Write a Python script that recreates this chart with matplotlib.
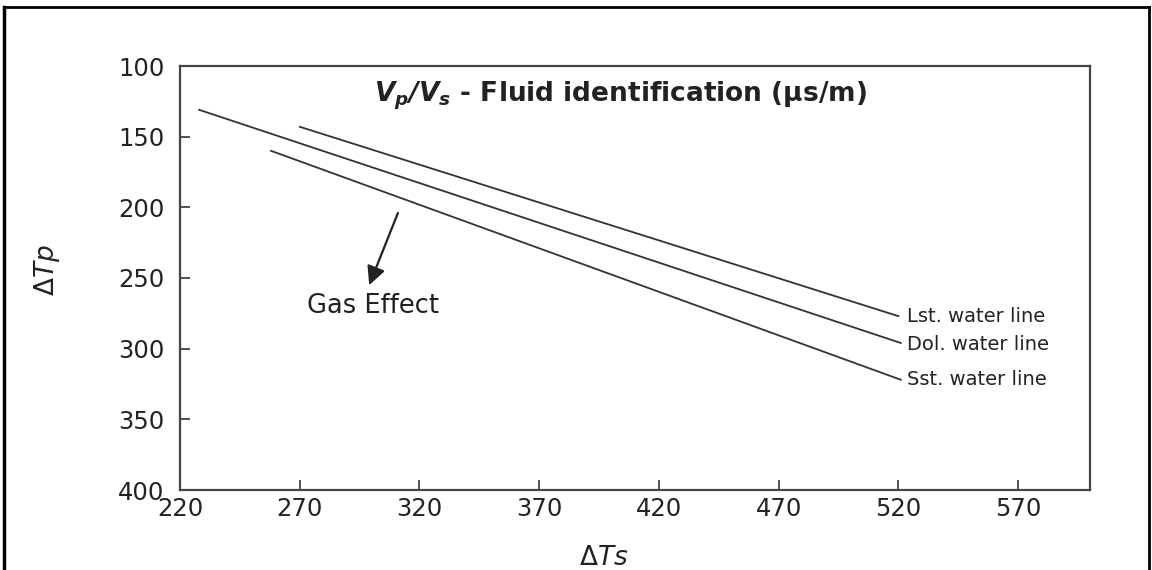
import matplotlib
matplotlib.use("Agg")
import matplotlib.pyplot as plt
from matplotlib.lines import Line2D

plt.rcParams['font.family'] = ['DejaVu Sans']
plt.rcParams['mathtext.fontset'] = 'dejavusans'

# Data
xticks = [220, 270, 320, 370, 420, 470, 520, 570]
yticks = [100, 150, 200, 250, 300, 350, 400]

lst_x = [270, 520]
lst_y = [143, 277]
dol_x = [228, 521]
dol_y = [131, 296]
sst_x = [258, 521]
sst_y = [160, 322]

line_labels = ["Lst. water line", "Dol. water line", "Sst. water line"]
label_y = [277, 297, 322]

arrow_tail = (311, 204)
arrow_head = (299, 255)

fig = plt.figure(figsize=(11.52, 5.70), dpi=100)
ax = fig.add_axes([180/1152, 1-490/570, (1090-180)/1152, (490-66)/570])

lc = '#333333'
ax.plot(lst_x, lst_y, color=lc, lw=1.3)
ax.plot(dol_x, dol_y, color=lc, lw=1.3)
ax.plot(sst_x, sst_y, color=lc, lw=1.3)

for lab, yy in zip(line_labels, label_y):
    ax.text(523.5, yy, lab, fontsize=14, color='#222222', va='center', ha='left')

ax.annotate('', xy=arrow_head, xytext=arrow_tail,
            arrowprops=dict(arrowstyle='-|>', color='#222222', lw=1.6,
                            mutation_scale=28, shrinkA=0, shrinkB=0))
ax.text(273, 270, 'Gas Effect', fontsize=18.5, color='#222222', va='center', ha='left')

ax.text(404, 121, r'$\mathbfit{V_p/V_s}$ - Fluid identification (μs/m)',
        fontsize=19, fontweight='bold', color='#222222', ha='center', va='center')

ax.set_xlim(220, 600)
ax.set_ylim(400, 100)
ax.set_xticks(xticks)
ax.set_yticks(yticks)
ax.tick_params(axis='both', direction='in', length=7, width=1.2, colors='#333333',
               labelcolor='#222222', labelsize=17.5)
ax.tick_params(axis='y', pad=11)
ax.tick_params(axis='x', pad=5)
for s in ax.spines.values():
    s.set_linewidth(1.6)
    s.set_color('#444444')

ax.set_xlabel(r'$\Delta Ts$', fontsize=19, color='#222222')
ax.set_ylabel(r'$\Delta Tp$', fontsize=19, color='#222222')
ax.xaxis.set_label_coords((604-180)/910, -(545-490)/424)
ax.yaxis.set_label_coords(-(180-62)/910, (490-270)/424)

# outer border
fig.add_artist(Line2D([4/1152, 4/1152], [0, 1-7/570], transform=fig.transFigure, color='black', lw=2.5))
fig.add_artist(Line2D([4/1152, 1149/1152], [1-7/570, 1-7/570], transform=fig.transFigure, color='black', lw=2.0))
fig.add_artist(Line2D([1149/1152, 1149/1152], [0, 1-7/570], transform=fig.transFigure, color='black', lw=2.0))

fig.savefig('out.png', dpi=100)
